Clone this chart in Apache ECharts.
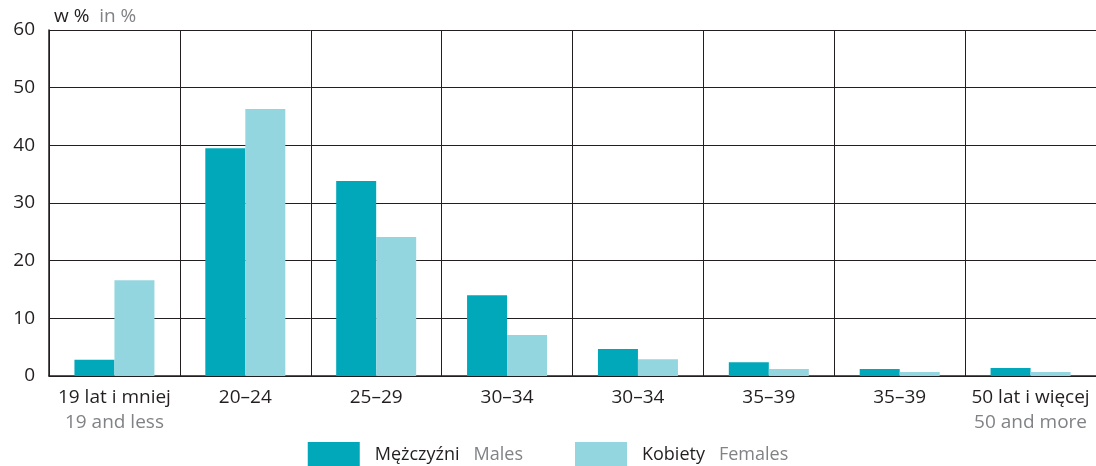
<!DOCTYPE html>
<html>
<head>
<meta charset="utf-8">
<script src="https://cdn.jsdelivr.net/npm/echarts@6/dist/echarts.min.js"></script>
<style>
  html, body { margin: 0; padding: 0; background: #fff; }
  #chart { width: 1096px; height: 466px; }
</style>
</head>
<body>
<div id="chart"></div>
<script>
// age groups (Polish + English line)
var catsPl = ['19 lat i mniej', '20–24', '25–29', '30–34', '30–34', '35–39', '35–39', '50 lat i więcej'];
var catsEn = ['19 and less', '', '', '', '', '', '', '50 and more'];
var males = [2.8, 39.5, 33.8, 14.0, 4.7, 2.4, 1.2, 1.4];
var females = [16.6, 46.3, 24.1, 7.1, 2.9, 1.2, 0.7, 0.7];
var yTicks = [0, 10, 20, 30, 40, 50, 60];

var font = '"Open Sans", "Noto Sans", sans-serif';
var ink = '#231f20';
var grey = '#808285';

var myChart = echarts.init(document.getElementById('chart'));

var option = {
    animation: false,
    textStyle: { fontFamily: font },
    title: {
        text: '{a|w %}  {b|in %}',
        left: 49,
        top: 2,
        textStyle: {
            fontWeight: 'normal',
            fontSize: 19,
            rich: {
                a: { fontSize: 19, color: ink, fontFamily: font, fontWeight: 'normal' },
                b: { fontSize: 19, color: grey, fontFamily: font, fontWeight: 'normal' }
            }
        }
    },
    legend: {
        bottom: -6,
        left: 'center',
        itemWidth: 52,
        itemHeight: 25,
        itemGap: 52,
        icon: 'rect',
        data: ['Mężczyźni', 'Kobiety'],
        formatter: function (name) {
            return name === 'Mężczyźni' ? '{a|Mężczyźni}{b|Males}' : '{a|Kobiety}{b|Females}';
        },
        textStyle: {
            padding: [0, 0, 0, 10],
            rich: {
                a: { fontSize: 18, color: ink, fontFamily: font },
                b: { fontSize: 18, color: grey, fontFamily: font, padding: [0, 0, 0, 14] }
            }
        }
    },
    grid: {
        left: 49,
        right: 0,
        top: 30,
        bottom: 90
    },
    xAxis: {
        type: 'category',
        data: catsPl,
        axisLine: { lineStyle: { color: ink, width: 1.5 } },
        axisTick: { show: false },
        splitLine: { show: true, interval: 0, lineStyle: { color: ink, width: 1 } },
        axisLabel: {
            interval: 0,
            margin: 9,
            formatter: function (v, i) {
                return catsEn[i] ? '{a|' + v + '}\n{b|' + catsEn[i] + '}' : '{a|' + v + '}';
            },
            rich: {
                a: { fontSize: 19, color: ink, fontFamily: font, lineHeight: 25 },
                b: { fontSize: 19, color: grey, fontFamily: font, lineHeight: 25 }
            }
        }
    },
    yAxis: {
        type: 'value',
        min: yTicks[0],
        max: yTicks[yTicks.length - 1],
        interval: 10,
        axisLine: { show: true, lineStyle: { color: ink, width: 1.5 } },
        axisTick: { show: false },
        axisLabel: { fontSize: 19, color: ink, margin: 14 },
        splitLine: { lineStyle: { color: ink, width: 1 } }
    },
    series: [
        {
            name: 'Mężczyźni',
            type: 'bar',
            data: males,
            barWidth: 40,
            barGap: '0%',
            itemStyle: { color: '#00a8b9' }
        },
        {
            name: 'Kobiety',
            type: 'bar',
            data: females,
            barWidth: 40,
            barGap: '0%',
            itemStyle: { color: '#94d6df' }
        }
    ]
};
myChart.setOption(option);
</script>
</body>
</html>
